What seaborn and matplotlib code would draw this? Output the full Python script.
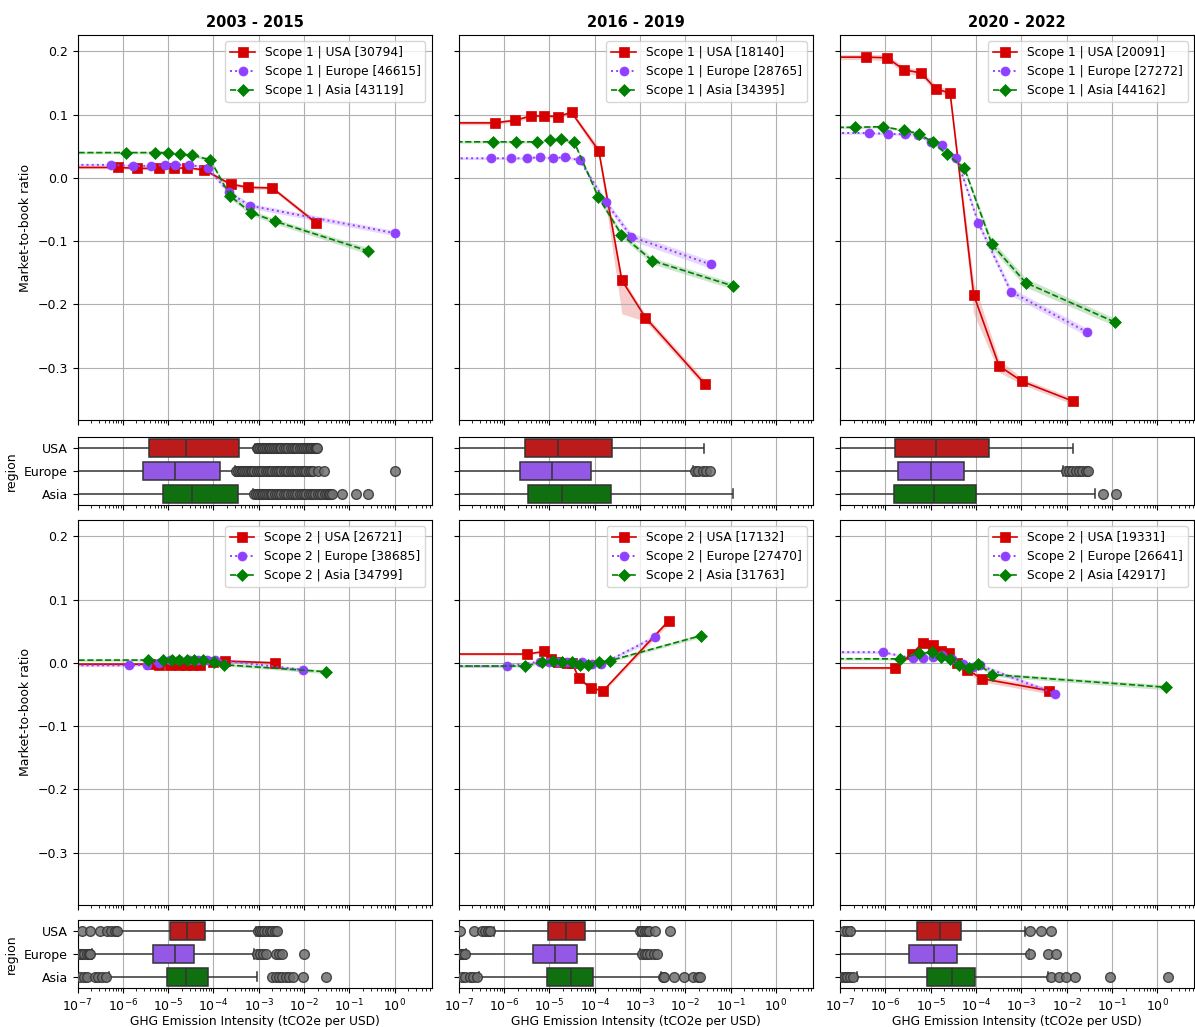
import numpy as np
import pandas as pd
import matplotlib
matplotlib.use("Agg")
import matplotlib.pyplot as plt
import seaborn as sns

plt.rcParams['font.family'] = ['DejaVu Sans']
plt.rcParams['font.size'] = 9.0
plt.rcParams['axes.grid'] = True

periods = ["2003 - 2015", "2016 - 2019", "2020 - 2022"]
regions = ["USA", "Europe", "Asia"]
colors = {"USA": "#d60000", "Europe": "#9040ff", "Asia": "#008000"}
markers = {"USA": "s", "Europe": "o", "Asia": "D"}
styles = {"USA": "-", "Europe": ":", "Asia": "--"}

counts_s1 = [[30794, 46615, 43119], [18140, 28765, 34395], [20091, 27272, 44162]]
counts_s2 = [[26721, 38685, 34799], [17132, 27470, 31763], [19331, 26641, 42917]]

# ---------------- line data: log10 intensity, market-to-book, band half-widths ----------------
# Scope 1, 2003-2015
s1p1_usa_lx = [-9, -6.11, -5.68, -5.21, -4.88, -4.59, -4.21, -3.62, -3.24, -2.70, -1.74]
s1p1_usa_y = [0.0165, 0.0165, 0.015, 0.015, 0.015, 0.016, 0.0127, -0.010, -0.015, -0.016, -0.071]
s1p1_usa_e = [0.002, 0.002, 0.002, 0.002, 0.002, 0.002, 0.002, 0.003, 0.003, 0.003, 0.004]
s1p1_eur_lx = [-9, -6.27, -5.78, -5.37, -5.07, -4.84, -4.55, -4.12, -3.66, -3.20, 0.01]
s1p1_eur_y = [0.0206, 0.0206, 0.019, 0.019, 0.0206, 0.0206, 0.021, 0.0153, -0.023, -0.044, -0.0875]
s1p1_eur_e = [0.002, 0.002, 0.002, 0.002, 0.002, 0.002, 0.002, 0.003, 0.004, 0.004, 0.004]
s1p1_asi_lx = [-9, -5.94, -5.30, -5.00, -4.74, -4.48, -4.07, -3.63, -3.17, -2.65, -0.59]
s1p1_asi_y = [0.040, 0.040, 0.040, 0.040, 0.0375, 0.036, 0.0285, -0.029, -0.055, -0.0685, -0.1155]
s1p1_asi_e = [0.002, 0.002, 0.002, 0.002, 0.002, 0.002, 0.003, 0.004, 0.004, 0.004, 0.005]

# Scope 1, 2016-2019
s1p2_usa_lx = [-9, -6.21, -5.76, -5.40, -5.12, -4.82, -4.51, -3.91, -3.40, -2.88, -1.57]
s1p2_usa_y = [0.087, 0.087, 0.091, 0.098, 0.098, 0.097, 0.1035, 0.043, -0.162, -0.221, -0.326]
s1p2_usa_elo = [0.003, 0.003, 0.003, 0.003, 0.003, 0.003, 0.003, 0.008, 0.053, 0.006, 0.006]
s1p2_usa_ehi = [0.003, 0.003, 0.003, 0.003, 0.003, 0.003, 0.003, 0.006, 0.005, 0.005, 0.006]
s1p2_eur_lx = [-9, -6.28, -5.85, -5.50, -5.20, -4.925, -4.66, -4.33, -3.76, -3.19, -1.44]
s1p2_eur_y = [0.031, 0.031, 0.031, 0.031, 0.033, 0.031, 0.033, 0.028, -0.038, -0.093, -0.137]
s1p2_eur_e = [0.002, 0.002, 0.002, 0.002, 0.002, 0.002, 0.002, 0.003, 0.005, 0.006, 0.006]
s1p2_asi_lx = [-9, -6.25, -5.73, -5.27, -4.985, -4.735, -4.455, -3.92, -3.41, -2.73, -0.945]
s1p2_asi_y = [0.057, 0.057, 0.057, 0.057, 0.060, 0.061, 0.057, -0.0305, -0.0896, -0.131, -0.171]
s1p2_asi_e = [0.002, 0.002, 0.002, 0.002, 0.002, 0.002, 0.002, 0.004, 0.005, 0.005, 0.005]

# Scope 1, 2020-2022
s1p3_usa_lx = [-9, -6.42, -5.96, -5.59, -5.21, -4.89, -4.57, -4.05, -3.49, -2.98, -1.87]
s1p3_usa_y = [0.191, 0.191, 0.190, 0.171, 0.166, 0.141, 0.134, -0.185, -0.2975, -0.322, -0.353]
s1p3_usa_elo = [0.004, 0.004, 0.005, 0.005, 0.005, 0.006, 0.005, 0.030, 0.010, 0.005, 0.005]
s1p3_usa_ehi = [0.004, 0.004, 0.005, 0.005, 0.005, 0.006, 0.005, 0.020, 0.010, 0.005, 0.005]
s1p3_eur_lx = [-9, -6.37, -5.94, -5.56, -5.28, -5.00, -4.76, -4.43, -3.95, -3.23, -1.55]
s1p3_eur_y = [0.071, 0.071, 0.0696, 0.069, 0.0686, 0.057, 0.0517, 0.032, -0.071, -0.180, -0.244]
s1p3_eur_e = [0.002, 0.002, 0.002, 0.002, 0.003, 0.003, 0.003, 0.004, 0.006, 0.006, 0.006]
s1p3_asi_lx = [-9, -6.66, -6.05, -5.59, -5.26, -4.95, -4.64, -4.26, -3.65, -2.90, -0.94]
s1p3_asi_y = [0.080, 0.080, 0.081, 0.075, 0.070, 0.056, 0.037, 0.016, -0.105, -0.166, -0.228]
s1p3_asi_e = [0.002, 0.002, 0.002, 0.002, 0.003, 0.003, 0.003, 0.004, 0.007, 0.007, 0.006]

# Scope 2, 2003-2015
s2p1_usa_lx = [-9, -5.40, -5.20, -4.95, -4.75, -4.60, -4.45, -4.30, -4.00, -3.75, -2.65]
s2p1_usa_y = [-0.002, -0.002, -0.004, -0.004, -0.004, -0.004, -0.004, -0.003, 0.002, 0.003, 0.000]
s2p1_usa_e = [0.002, 0.002, 0.002, 0.002, 0.002, 0.002, 0.002, 0.002, 0.002, 0.002, 0.003]
s2p1_eur_lx = [-9, -5.87, -5.47, -5.20, -4.95, -4.75, -4.55, -4.35, -4.15, -3.96, -2.02]
s2p1_eur_y = [-0.004, -0.004, -0.003, 0.000, 0.004, 0.004, 0.004, 0.004, 0.004, 0.005, -0.011]
s2p1_eur_e = [0.002, 0.002, 0.002, 0.002, 0.002, 0.002, 0.002, 0.002, 0.002, 0.002, 0.003]
s2p1_asi_lx = [-9, -5.45, -5.12, -4.91, -4.75, -4.59, -4.43, -4.24, -3.99, -3.76, -1.52]
s2p1_asi_y = [0.004, 0.0045, 0.0045, 0.004, 0.004, 0.004, 0.004, 0.004, 0.001, -0.003, -0.014]
s2p1_asi_e = [0.002, 0.002, 0.002, 0.002, 0.002, 0.002, 0.002, 0.002, 0.002, 0.002, 0.003]

# Scope 2, 2016-2019
s2p2_usa_lx = [-9, -5.49, -5.12, -4.97, -4.80, -4.62, -4.50, -4.35, -4.09, -3.81, -2.36]
s2p2_usa_y = [0.014, 0.014, 0.018, 0.006, 0.001, 0.000, 0.000, -0.024, -0.040, -0.044, 0.067]
s2p2_usa_e = [0.002, 0.002, 0.002, 0.002, 0.002, 0.002, 0.002, 0.003, 0.003, 0.003, 0.005]
s2p2_eur_lx = [-9, -5.93, -5.21, -5.00, -4.80, -4.62, -4.45, -4.28, -4.05, -3.85, -2.67]
s2p2_eur_y = [-0.005, -0.005, 0.002, 0.002, 0.001, 0.001, 0.000, 0.001, -0.002, -0.002, 0.041]
s2p2_eur_e = [0.002, 0.002, 0.002, 0.002, 0.002, 0.002, 0.002, 0.002, 0.002, 0.002, 0.004]
s2p2_asi_lx = [-9, -5.53, -5.16, -4.92, -4.72, -4.51, -4.33, -4.15, -3.91, -3.66, -1.66]
s2p2_asi_y = [-0.005, -0.005, 0.001, 0.0026, 0.001, 0.002, -0.003, -0.003, 0.002, 0.0036, 0.043]
s2p2_asi_e = [0.002, 0.002, 0.002, 0.002, 0.002, 0.002, 0.002, 0.002, 0.002, 0.002, 0.003]

# Scope 2, 2020-2022
s2p3_usa_lx = [-9, -5.79, -5.42, -5.17, -4.95, -4.78, -4.59, -4.41, -4.19, -3.87, -2.38]
s2p3_usa_y = [-0.008, -0.008, 0.014, 0.0316, 0.029, 0.018, 0.016, 0.000, -0.011, -0.025, -0.044]
s2p3_usa_e = [0.002, 0.002, 0.004, 0.004, 0.004, 0.004, 0.004, 0.004, 0.005, 0.005, 0.005]
s2p3_eur_lx = [-9, -6.06, -5.38, -5.17, -4.95, -4.755, -4.53, -4.28, -4.06, -3.91, -2.25]
s2p3_eur_y = [0.017, 0.017, 0.007, 0.007, 0.009, 0.012, 0.006, -0.002, -0.007, -0.004, -0.049]
s2p3_eur_e = [0.002, 0.002, 0.002, 0.002, 0.002, 0.002, 0.002, 0.002, 0.003, 0.003, 0.004]
s2p3_asi_lx = [-9, -5.675, -5.25, -4.97, -4.77, -4.57, -4.37, -4.15, -3.95, -3.64, 0.20]
s2p3_asi_y = [0.007, 0.0063, 0.015, 0.017, 0.010, 0.006, -0.004, -0.008, -0.002, -0.0185, -0.0386]
s2p3_asi_e = [0.002, 0.002, 0.002, 0.002, 0.002, 0.002, 0.002, 0.002, 0.003, 0.003, 0.004]

line_panels = {
    (0, 0): [("USA", s1p1_usa_lx, s1p1_usa_y, s1p1_usa_e, s1p1_usa_e),
             ("Europe", s1p1_eur_lx, s1p1_eur_y, s1p1_eur_e, s1p1_eur_e),
             ("Asia", s1p1_asi_lx, s1p1_asi_y, s1p1_asi_e, s1p1_asi_e)],
    (0, 1): [("USA", s1p2_usa_lx, s1p2_usa_y, s1p2_usa_elo, s1p2_usa_ehi),
             ("Europe", s1p2_eur_lx, s1p2_eur_y, s1p2_eur_e, s1p2_eur_e),
             ("Asia", s1p2_asi_lx, s1p2_asi_y, s1p2_asi_e, s1p2_asi_e)],
    (0, 2): [("USA", s1p3_usa_lx, s1p3_usa_y, s1p3_usa_elo, s1p3_usa_ehi),
             ("Europe", s1p3_eur_lx, s1p3_eur_y, s1p3_eur_e, s1p3_eur_e),
             ("Asia", s1p3_asi_lx, s1p3_asi_y, s1p3_asi_e, s1p3_asi_e)],
    (2, 0): [("USA", s2p1_usa_lx, s2p1_usa_y, s2p1_usa_e, s2p1_usa_e),
             ("Europe", s2p1_eur_lx, s2p1_eur_y, s2p1_eur_e, s2p1_eur_e),
             ("Asia", s2p1_asi_lx, s2p1_asi_y, s2p1_asi_e, s2p1_asi_e)],
    (2, 1): [("USA", s2p2_usa_lx, s2p2_usa_y, s2p2_usa_e, s2p2_usa_e),
             ("Europe", s2p2_eur_lx, s2p2_eur_y, s2p2_eur_e, s2p2_eur_e),
             ("Asia", s2p2_asi_lx, s2p2_asi_y, s2p2_asi_e, s2p2_asi_e)],
    (2, 2): [("USA", s2p3_usa_lx, s2p3_usa_y, s2p3_usa_e, s2p3_usa_e),
             ("Europe", s2p3_eur_lx, s2p3_eur_y, s2p3_eur_e, s2p3_eur_e),
             ("Asia", s2p3_asi_lx, s2p3_asi_y, s2p3_asi_e, s2p3_asi_e)],
}

# ---------------- box data: log10 [whisker low, Q1, median, Q3, whisker high] and outliers ----------------
box_s1 = [
    {"USA": [-9, -5.42, -4.605, -3.43, -3.08], "Europe": [-9, -5.56, -4.84, -3.85, -3.52],
     "Asia": [-9, -5.11, -4.48, -3.47, -3.13]},
    {"USA": [-9, -5.53, -4.81, -3.61, -1.58], "Europe": [-9, -5.64, -4.94, -4.08, -1.83],
     "Asia": [-9, -5.48, -4.73, -3.64, -0.94]},
    {"USA": [-9, -5.78, -4.88, -3.71, -1.87], "Europe": [-9, -5.73, -5.00, -4.26, -2.08],
     "Asia": [-9, -5.81, -4.93, -4.00, -1.37]},
]
out_s1 = [
    {"USA": [-3.05, -3.02, -2.98, -2.94, -2.9, -2.86, -2.82, -2.78, -2.75, -2.7, -2.66, -2.62, -2.58,
             -2.54, -2.5, -2.45, -2.4, -2.35, -2.3, -2.25, -2.2, -2.15, -2.1, -2.05, -2.0, -1.96,
             -1.92, -1.88, -1.84, -1.8, -1.77, -1.74, -1.72],
     "Europe": [-3.5, -3.46, -3.42, -3.38, -3.34, -3.3, -3.26, -3.22, -3.18, -3.14, -3.1, -3.05, -3.0,
                -2.95, -2.9, -2.85, -2.8, -2.75, -2.7, -2.65, -2.6, -2.55, -2.5, -2.45, -2.4, -2.35,
                -2.3, -2.25, -2.2, -2.15, -2.1, -2.05, -2.0, -1.95, -1.9, -1.85, -1.8, -1.69, -1.57, 0.01],
     "Asia": [-3.1, -3.06, -3.02, -2.98, -2.94, -2.9, -2.86, -2.82, -2.78, -2.74, -2.7, -2.65, -2.6,
              -2.55, -2.5, -2.45, -2.4, -2.35, -2.3, -2.25, -2.2, -2.15, -2.1, -2.05, -2.0, -1.95,
              -1.9, -1.85, -1.8, -1.75, -1.7, -1.65, -1.6, -1.55, -1.5, -1.46, -1.42, -1.39,
              -1.155, -0.845, -0.59]},
    {"USA": [], "Europe": [-1.78, -1.72, -1.62, -1.55, -1.45], "Asia": []},
    {"USA": [], "Europe": [-2.02, -1.95, -1.88, -1.8, -1.72, -1.65, -1.58, -1.53], "Asia": [-1.19, -0.92]},
]
box_s2 = [
    {"USA": [-6.10, -4.95, -4.58, -4.18, -3.06], "Europe": [-6.69, -5.34, -4.84, -4.44, -3.10],
     "Asia": [-6.30, -5.02, -4.60, -4.11, -3.03]},
    {"USA": [-6.22, -5.02, -4.63, -4.22, -3.05], "Europe": [-6.83, -5.36, -4.88, -4.39, -3.0],
     "Asia": [-6.56, -5.05, -4.52, -4.03, -2.54]},
    {"USA": [-6.74, -5.30, -4.79, -4.32, -2.91], "Europe": [-7.3, -5.48, -4.93, -4.42, -2.83],
     "Asia": [-6.63, -5.09, -4.54, -4.03, -2.41]},
]
out_s2 = [
    {"USA": [-6.91, -6.72, -6.5, -6.36, -6.25, -6.17, -6.12, -3.01, -2.97, -2.92, -2.88, -2.82, -2.76,
             -2.7, -2.64, -2.6],
     "Europe": [-7.0, -6.95, -6.9, -6.85, -6.8, -6.75, -6.72, -3.05, -2.98, -2.9, -2.85, -2.62, -2.55,
                -2.48, -2.0],
     "Asia": [-6.95, -6.85, -6.8, -6.62, -6.55, -6.45, -6.38, -2.7, -2.62, -2.55, -2.48, -2.4, -2.33,
              -2.25, -2.02, -1.51]},
    {"USA": [-6.97, -6.67, -6.48, -6.42, -6.35, -6.3, -3.0, -2.95, -2.9, -2.85, -2.8, -2.68, -2.33],
     "Europe": [-7.0, -6.95, -6.9, -6.85, -2.95, -2.9, -2.85, -2.78, -2.7, -2.63],
     "Asia": [-6.93, -6.85, -6.75, -6.68, -6.6, -2.5, -2.46, -2.26, -2.02, -1.83, -1.72, -1.67]},
    {"USA": [-6.92, -6.85, -6.79, -2.81, -2.56, -2.35],
     "Europe": [-2.81, -2.41, -2.24],
     "Asia": [-6.95, -6.9, -6.85, -6.78, -6.72, -2.35, -2.17, -2.01, -1.81, -1.05, 0.23]},
]

# ---------------- layout ----------------
W, H = 1195, 1027
fig = plt.figure(figsize=(W / 100, H / 100), dpi=100)
col_left = [77.5, 458.7, 840.0]
col_w = 354.0
row_top = [35, 437, 520, 920]
row_h = [385, 68, 385, 68]


def rect(c, r):
    return [col_left[c] / W, 1 - (row_top[r] + row_h[r]) / H, col_w / W, row_h[r] / H]


axes = [[None] * 3 for _ in range(4)]
for c in range(3):
    for r in range(4):
        kw = {}
        if r > 0:
            kw["sharex"] = axes[0][c]
        if r in (0, 2) and not (r == 0 and c == 0):
            kw["sharey"] = axes[0][0]
        axes[r][c] = fig.add_axes(rect(c, r), **kw)
    axes[0][c].set_xscale("log")

# ---------------- line panels ----------------
for (r, c), series in line_panels.items():
    ax = axes[r][c]
    scope = "Scope 1" if r == 0 else "Scope 2"
    counts = counts_s1[c] if r == 0 else counts_s2[c]
    for i, (reg, lx, y, elo, ehi) in enumerate(series):
        x = 10 ** np.array(lx, dtype=float)
        yy = np.array(y, dtype=float)
        col = colors[reg]
        ax.fill_between(x, yy - np.array(elo), yy + np.array(ehi), color=col, alpha=0.2, linewidth=0)
        sns.lineplot(x=x, y=yy, ax=ax, color=col, marker=markers[reg], linestyle=styles[reg],
                     markersize=6.5 if reg != "Asia" else 6, markeredgecolor=col, markeredgewidth=0.5,
                     linewidth=1.2 if reg != "Europe" else 1.4,
                     label=f"{scope} | {reg} [{counts[i]}]", errorbar=None, sort=False)
    ax.legend(loc="upper right", fontsize=8.8)
    ax.set_xlabel("")
    ax.set_ylabel("Market-to-book ratio" if c == 0 else "")

# ---------------- box panels ----------------
for r, boxes, outs in [(1, box_s1, out_s1), (3, box_s2, out_s2)]:
    for c in range(3):
        ax = axes[r][c]
        vals, regs = [], []
        for reg in regions:
            for v in boxes[c][reg]:
                vals.append(10 ** v)
                regs.append(reg)
        df = pd.DataFrame({"value": vals, "region": regs})
        sns.boxplot(data=df, x="value", y="region", hue="region", order=regions, hue_order=regions,
                    palette=colors, whis=(0, 100), showfliers=False, width=0.8, legend=False, ax=ax,
                    linecolor="#333333", linewidth=1.1)
        ov, oreg = [], []
        for reg in regions:
            for v in outs[c][reg]:
                ov.append(10 ** v)
                oreg.append(reg)
        dfo = pd.DataFrame({"value": ov, "region": oreg})
        sns.stripplot(data=dfo, x="value", y="region", order=regions, jitter=False, color="#707070",
                      edgecolor="#333333", linewidth=1, size=7, alpha=0.85, ax=ax, zorder=3)
        ax.set_ylabel("region" if c == 0 else "")
        ax.set_xlabel("GHG Emission Intensity (tCO2e per USD)" if r == 3 else "", labelpad=0.5,
                      fontsize=8.8)
        ax.yaxis.grid(False)

# ---------------- axes cosmetics ----------------
axes[0][0].set_ylim(-0.383, 0.226)
for c in range(3):
    axes[0][c].set_xlim(1e-7, 10 ** 0.81)
    axes[0][c].set_title(periods[c], fontweight="bold", fontsize=10.5)
    for r in range(3):
        axes[r][c].tick_params(labelbottom=False)
    if c > 0:
        for r in range(4):
            axes[r][c].tick_params(labelleft=False)

fig.savefig("out.png", dpi=100)
